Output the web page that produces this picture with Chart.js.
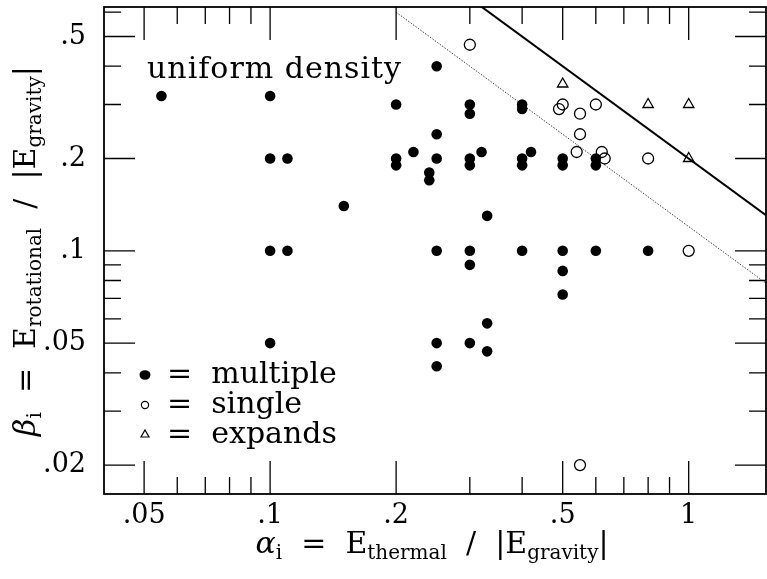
<!DOCTYPE html>
<html>
<head>
<meta charset="utf-8">
<script src="https://cdn.jsdelivr.net/npm/chart.js@4.4.1/dist/chart.umd.min.js"></script>
<style>
html, body { margin: 0; padding: 0; background: #fff; }
</style>
</head>
<body>
<canvas id="mychart" width="767" height="579"></canvas>
<script>
// alpha = thermal / |gravity|, beta = rotational / |gravity|
const multipleAlpha = [0.055, 0.1, 0.1, 0.11, 0.1, 0.11, 0.1, 0.15, 0.2, 0.2, 0.2, 0.22, 0.24, 0.24,
    0.25, 0.25, 0.25, 0.25, 0.25, 0.25, 0.3, 0.3, 0.3, 0.3, 0.32, 0.33, 0.3, 0.3, 0.3, 0.33, 0.33,
    0.4, 0.4, 0.4, 0.4, 0.42, 0.4, 0.5, 0.5, 0.5, 0.5, 0.5, 0.6, 0.6, 0.6, 0.8]
const multipleBeta = [0.32, 0.32, 0.2, 0.2, 0.1, 0.1, 0.05, 0.14, 0.3, 0.2, 0.19, 0.21, 0.18, 0.17,
    0.4, 0.24, 0.2, 0.1, 0.05, 0.042, 0.3, 0.28, 0.2, 0.19, 0.21, 0.13, 0.1, 0.09, 0.05, 0.058, 0.047,
    0.3, 0.29, 0.2, 0.19, 0.21, 0.1, 0.2, 0.19, 0.1, 0.086, 0.072, 0.2, 0.19, 0.1, 0.1]

const singleAlpha = [0.3, 0.5, 0.49, 0.55, 0.6, 0.55, 0.54, 0.62, 0.63, 0.8, 1.0, 0.55]
const singleBeta = [0.47, 0.3, 0.29, 0.28, 0.3, 0.24, 0.21, 0.21, 0.2, 0.2, 0.1, 0.02]

const expandAlpha = [0.5, 0.8, 1.0, 1.0]
const expandBeta = [0.35, 0.3, 0.3, 0.2]

// boundary lines (alpha*beta = 0.2 solid, 0.12 dotted)
const boundAlpha = [0.2, 2]
const solidBeta = [1.0, 0.1]
const dottedBeta = [0.6, 0.06]

const xTicks = [0.05, 0.1, 0.2, 0.5, 1]
const xTickLabels = ['.05', '.1', '.2', '.5', '1']
const xMinor = [0.06, 0.07, 0.08, 0.09, 0.3, 0.4, 0.6, 0.7, 0.8, 0.9]
const yTicks = [0.02, 0.05, 0.1, 0.2, 0.5]
const yTickLabels = ['.02', '.05', '.1', '.2', '.5']
const yMinor = [0.03, 0.04, 0.06, 0.07, 0.08, 0.09, 0.3, 0.4, 0.6]

const legendNames = ['multiple', 'single', 'expands']

const serif = "'DejaVu Serif', serif"

function pairs(xs, ys){
    return xs.map(function(v, i){ return {x: v, y: ys[i]} })
}

// draws a run of text pieces [text, size, italic, drop] centred on cx
function drawPieces(ctx, pieces, cx, baseY){
    let widths = pieces.map(function(p){
        ctx.font = (p[2] ? 'italic ' : '') + p[1] + 'px ' + serif
        return ctx.measureText(p[0]).width
    })
    let total = widths.reduce(function(a, b){ return a + b }, 0)
    let px = cx - total / 2
    ctx.textAlign = 'left'
    ctx.textBaseline = 'alphabetic'
    pieces.forEach(function(p, i){
        ctx.font = (p[2] ? 'italic ' : '') + p[1] + 'px ' + serif
        ctx.fillText(p[0], px, baseY + (p[3] || 0))
        px += widths[i]
    })
}

const frameTicks = {
    id: 'frameTicks',
    afterDatasetsDraw(chart){
        const ctx = chart.ctx
        const a = chart.chartArea
        const xs = chart.scales.x
        const ys = chart.scales.y
        ctx.save()
        ctx.strokeStyle = '#000'
        ctx.lineWidth = 1.3
        ctx.beginPath()
        function tx(v, len){
            let p = xs.getPixelForValue(v)
            ctx.moveTo(p, a.bottom); ctx.lineTo(p, a.bottom - len)
            ctx.moveTo(p, a.top); ctx.lineTo(p, a.top + len)
        }
        function ty(v, len){
            let p = ys.getPixelForValue(v)
            ctx.moveTo(a.left, p); ctx.lineTo(a.left + len, p)
            ctx.moveTo(a.right, p); ctx.lineTo(a.right - len, p)
        }
        xTicks.forEach(function(v){ tx(v, 33) })
        xMinor.forEach(function(v){ tx(v, 17) })
        yTicks.forEach(function(v){ ty(v, 31) })
        yMinor.forEach(function(v){ ty(v, 17) })
        ctx.stroke()
        ctx.lineWidth = 1.8
        ctx.strokeRect(a.left, a.top, a.right - a.left, a.bottom - a.top)

        ctx.fillStyle = '#000'
        ctx.font = '30px ' + serif
        ctx.letterSpacing = '1px'
        ctx.textAlign = 'left'
        ctx.textBaseline = 'alphabetic'
        ctx.fillText('uniform density', 147, 78)
        ctx.letterSpacing = '0px'

        // legend
        let rows = [383, 413, 443]
        legendNames.forEach(function(name, i){
            ctx.font = '30px ' + serif
            ctx.fillText('=  ' + name, 167, rows[i])
        })
        ctx.lineWidth = 1.2
        ctx.beginPath(); ctx.ellipse(145, 375, 5.5, 4.8, 0, 0, Math.PI * 2); ctx.fill()
        ctx.beginPath(); ctx.arc(145, 405, 3.6, 0, Math.PI * 2); ctx.stroke()
        ctx.beginPath(); ctx.moveTo(141, 437); ctx.lineTo(149, 437); ctx.lineTo(145, 430); ctx.closePath(); ctx.stroke()

        // axis titles
        drawPieces(ctx, [['\u03b1', 30, true], ['i', 20, false, 6], ['  =  ', 30], ['E', 30],
            ['thermal', 20, false, 6], ['  /  ', 30], ['|E', 30], ['gravity', 20, false, 6], ['|', 30]], 432, 553)
        ctx.save()
        ctx.translate(35, 251)
        ctx.rotate(-Math.PI / 2)
        drawPieces(ctx, [['\u03b2', 30, true], ['i', 20, false, 6], ['  =  ', 30], ['E', 30],
            ['rotational', 20, false, 6], ['  /  ', 30], ['|E', 30], ['gravity', 20, false, 6], ['|', 30]], 0, 0)
        ctx.restore()
        ctx.restore()
    }
}

new Chart(document.getElementById('mychart'), {
    type: 'scatter',
    data: {
        datasets: [
            {
                label: 'multiple',
                data: pairs(multipleAlpha, multipleBeta),
                pointStyle: 'circle',
                pointRadius: 5.3,
                backgroundColor: '#000',
                borderColor: '#000',
                borderWidth: 0
            },
            {
                label: 'single',
                data: pairs(singleAlpha, singleBeta),
                pointStyle: 'circle',
                pointRadius: 5.5,
                backgroundColor: 'rgba(255,255,255,0)',
                borderColor: '#000',
                borderWidth: 1.3
            },
            {
                label: 'expands',
                data: pairs(expandAlpha, expandBeta),
                pointStyle: 'triangle',
                pointRadius: 6,
                backgroundColor: 'rgba(255,255,255,0)',
                borderColor: '#000',
                borderWidth: 1.3
            },
            {
                label: 'alpha beta = 0.2',
                data: pairs(boundAlpha, solidBeta),
                showLine: true,
                pointRadius: 0,
                borderColor: '#000',
                borderWidth: 2
            },
            {
                label: 'alpha beta = 0.12',
                data: pairs(boundAlpha, dottedBeta),
                showLine: true,
                pointRadius: 0,
                borderColor: '#444',
                borderWidth: 1,
                borderDash: [1.5, 1.5]
            }
        ]
    },
    options: {
        responsive: false,
        animation: false,
        devicePixelRatio: 1,
        layout: { autoPadding: false, padding: { top: 7, right: 1, left: 0, bottom: 0 } },
        plugins: { legend: { display: false }, tooltip: { enabled: false } },
        scales: {
            x: {
                type: 'logarithmic',
                min: 0.0401,
                max: 1.53,
                afterBuildTicks: function(s){ s.ticks = xTicks.map(function(v){ return {value: v} }) },
                afterFit: function(s){
                    s.height = 85
                    s.paddingLeft = 0
                    s.paddingRight = 0
                    s.paddingTop = 0
                    s.paddingBottom = 0
                },
                ticks: {
                    autoSkip: false,
                    maxRotation: 0,
                    padding: 6,
                    color: '#000',
                    font: { family: serif, size: 27 },
                    callback: function(v, i){ return xTickLabels[i] }
                },
                grid: { display: false, drawTicks: false },
                border: { display: false }
            },
            y: {
                type: 'logarithmic',
                min: 0.0161,
                max: 0.624,
                afterBuildTicks: function(s){ s.ticks = yTicks.map(function(v){ return {value: v} }) },
                afterFit: function(s){
                    s.width = 104
                    s.paddingLeft = 0
                    s.paddingRight = 0
                    s.paddingTop = 0
                    s.paddingBottom = 0
                },
                ticks: {
                    autoSkip: false,
                    padding: 18,
                    color: '#000',
                    font: { family: serif, size: 27 },
                    callback: function(v, i){ return yTickLabels[i] }
                },
                grid: { display: false, drawTicks: false },
                border: { display: false }
            }
        }
    },
    plugins: [frameTicks]
})
</script>
</body>
</html>
